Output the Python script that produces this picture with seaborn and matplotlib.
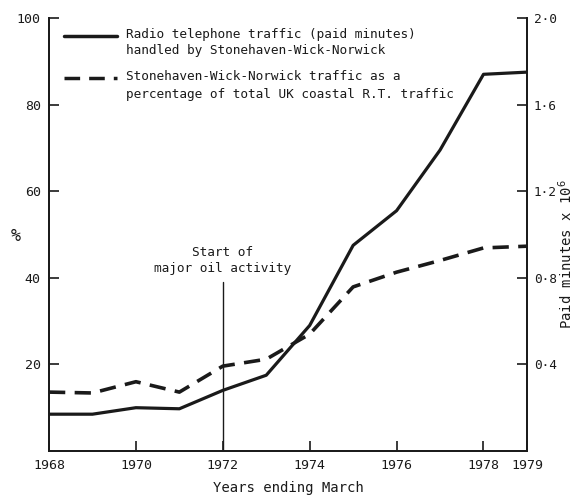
import matplotlib
matplotlib.use("Agg")
import matplotlib.pyplot as plt
import seaborn as sns
import pandas as pd
from matplotlib.ticker import FuncFormatter, FixedLocator

# ---- data ----
years = [1968, 1969, 1970, 1971, 1972, 1973, 1974, 1975, 1976, 1977, 1978, 1979]
paid_minutes_millions = [0.17, 0.17, 0.20, 0.195, 0.28, 0.35, 0.58, 0.95, 1.11, 1.39, 1.74, 1.75]
share_pct = [13.6, 13.4, 16.0, 13.6, 19.6, 21.2, 27.0, 37.9, 41.3, 44.0, 46.9, 47.3]
x_ticks = [1968, 1970, 1972, 1974, 1976, 1978, 1979]
left_ticks = [20, 40, 60, 80, 100]
right_ticks = [0.4, 0.8, 1.2, 1.6, 2.0]
oil_year = 1972
label_solid = ["Radio telephone traffic (paid minutes)", "handled by Stonehaven-Wick-Norwick"]
label_dashed = ["Stonehaven-Wick-Norwick traffic as a", "percentage of total UK coastal R.T. traffic"]

df = pd.DataFrame({"year": years, "paid": paid_minutes_millions, "pct": share_pct})

sns.set_style("white")
plt.rcParams["font.family"] = ["DejaVu Sans Mono", "DejaVu Sans"]
ink = "#1a1a1a"
dash = (0, (4.5, 2.6))

fig = plt.figure(figsize=(5.74, 4.95), dpi=100)
ax = fig.add_axes([0.0854, 0.0889, 0.8326, 0.8747])
ax2 = ax.twinx()

sns.lineplot(data=df, x="year", y="pct", ax=ax, color=ink, linewidth=2.6,
             linestyle=dash, legend=False)
sns.lineplot(data=df, x="year", y="paid", ax=ax2, color=ink, linewidth=2.3, legend=False)

ax.set_xlim(1968, 1979)
ax.set_ylim(0, 100)
ax2.set_ylim(0, 2.0)

ax.axvline(oil_year, ymin=0, ymax=0.39, color=ink, lw=1.0)
ax.text(oil_year, 40.6, "Start of\nmajor oil activity", ha="center", va="bottom",
        fontsize=9.2, color=ink, linespacing=1.3)

for a in (ax, ax2):
    a.spines["top"].set_visible(False)
    for s in ("left", "right", "bottom"):
        a.spines[s].set_linewidth(1.3)
        a.spines[s].set_color(ink)

ax.xaxis.set_major_locator(FixedLocator(x_ticks))
ax.set_xticklabels([str(t) for t in x_ticks])
ax.yaxis.set_major_locator(FixedLocator(left_ticks))
ax.set_yticklabels([str(t) for t in left_ticks])
ax2.yaxis.set_major_locator(FixedLocator(right_ticks))
ax2.yaxis.set_major_formatter(FuncFormatter(lambda v, p: f"{v:.1f}".replace(".", "·")))

ax.tick_params(axis="both", direction="in", length=7, width=1.2, colors=ink,
               labelsize=9.5, pad=6)
ax.tick_params(axis="y", left=True, right=False)
ax.tick_params(axis="x", bottom=True)
ax2.tick_params(axis="y", direction="in", length=7, width=1.2, colors=ink,
                labelsize=9.2, pad=5, right=True)

ax.set_xlabel("Years ending March", fontsize=10, color=ink, labelpad=6)
ax.set_ylabel("%", fontsize=12, color=ink, rotation=0)
ax.yaxis.set_label_coords(-0.07, 0.475)
ax2.set_ylabel("Paid minutes x 10$^6$", fontsize=10, color=ink)
ax2.yaxis.set_label_coords(1.062, 0.455)

# legend drawn by hand so the keys align with the first line of each label
tr = ax.transAxes
key_x = [0.031, 0.142]
text_x = 0.161
rows = [(0.958, "-", label_solid, [0.961, 0.924]),
        (0.861, dash, label_dashed, [0.864, 0.824])]
for ky, ls, lines, ys in rows:
    ax.plot(key_x, [ky, ky], transform=tr, color=ink, lw=2.5, linestyle=ls,
            clip_on=False)
    for txt, ty in zip(lines, ys):
        ax.text(text_x, ty, txt, transform=tr, fontsize=9.2, color=ink,
                ha="left", va="center")

fig.savefig("out.png", dpi=100)
